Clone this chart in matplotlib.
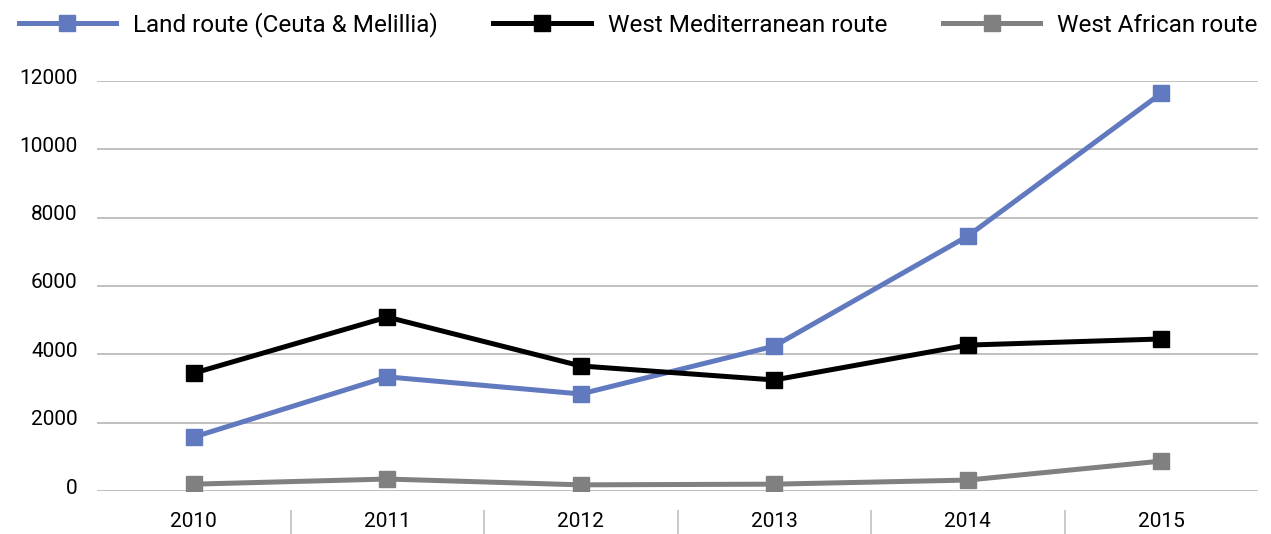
import matplotlib
matplotlib.use("Agg")
import matplotlib.pyplot as plt
import matplotlib.transforms as mtransforms

plt.rcParams['font.family'] = ['Roboto', 'DejaVu Sans']

years = ['2010', '2011', '2012', '2013', '2014', '2015']
land = [1580, 3340, 2840, 4240, 7460, 11640]
west_med = [3450, 5090, 3660, 3250, 4270, 4450]
west_afr = [200, 350, 180, 200, 320, 875]
yticks = [0, 2000, 4000, 6000, 8000, 10000, 12000]

fig = plt.figure(figsize=(12.71, 5.34), dpi=100)
ax = fig.add_axes([97/1271, 43/534, (1258-97)/1271, (491-81)/534])

x = list(range(len(years)))
ax.plot(x, land, color='#6079bf', lw=3.6, marker='s', ms=12,
        label='Land route (Ceuta & Melillia)', zorder=3)
ax.plot(x, west_med, color='#000000', lw=3.6, marker='s', ms=12,
        label='West Mediterranean route', zorder=3)
ax.plot(x, west_afr, color='#808080', lw=3.6, marker='s', ms=12,
        label='West African route', zorder=3)

ax.set_xlim(-0.5, 5.5)
ax.set_ylim(0, 12000)
ax.set_yticks(yticks)
ax.set_yticklabels([str(v) for v in yticks])
ax.set_xticks(x)
ax.set_xticklabels(years)
ax.set_xticks([i + 0.5 for i in range(len(years) - 1)], minor=True)

# gridlines
ax.grid(axis='y', color='#c0c0c0', lw=1.4)
ax.set_axisbelow(True)
for s in ax.spines.values():
    s.set_visible(False)

ax.tick_params(axis='y', length=0, pad=14, labelsize=15)
ax.tick_params(axis='x', which='major', length=0, pad=15, labelsize=15)
ax.tick_params(axis='x', which='minor', length=24, width=1.2,
               color='#c0c0c0', direction='out', pad=0)
# shift the x minor ticks down away from the axis
for t in ax.xaxis.get_minor_ticks():
    t.tick1line.set_transform(t.tick1line.get_transform() +
                              mtransforms.ScaledTranslation(0, -19/100, fig.dpi_scale_trans))
# y labels sit slightly above gridlines
for lab in ax.get_yticklabels():
    lab.set_transform(lab.get_transform() +
                      mtransforms.ScaledTranslation(0, 5/100, fig.dpi_scale_trans))

fig.legend(loc='upper left', bbox_to_anchor=(0.005, 1.0), ncol=3, frameon=False,
           fontsize=17.5, handlelength=4.0, handletextpad=0.7, columnspacing=2.3,
           borderaxespad=0.1)

fig.savefig('out.png', dpi=100)
